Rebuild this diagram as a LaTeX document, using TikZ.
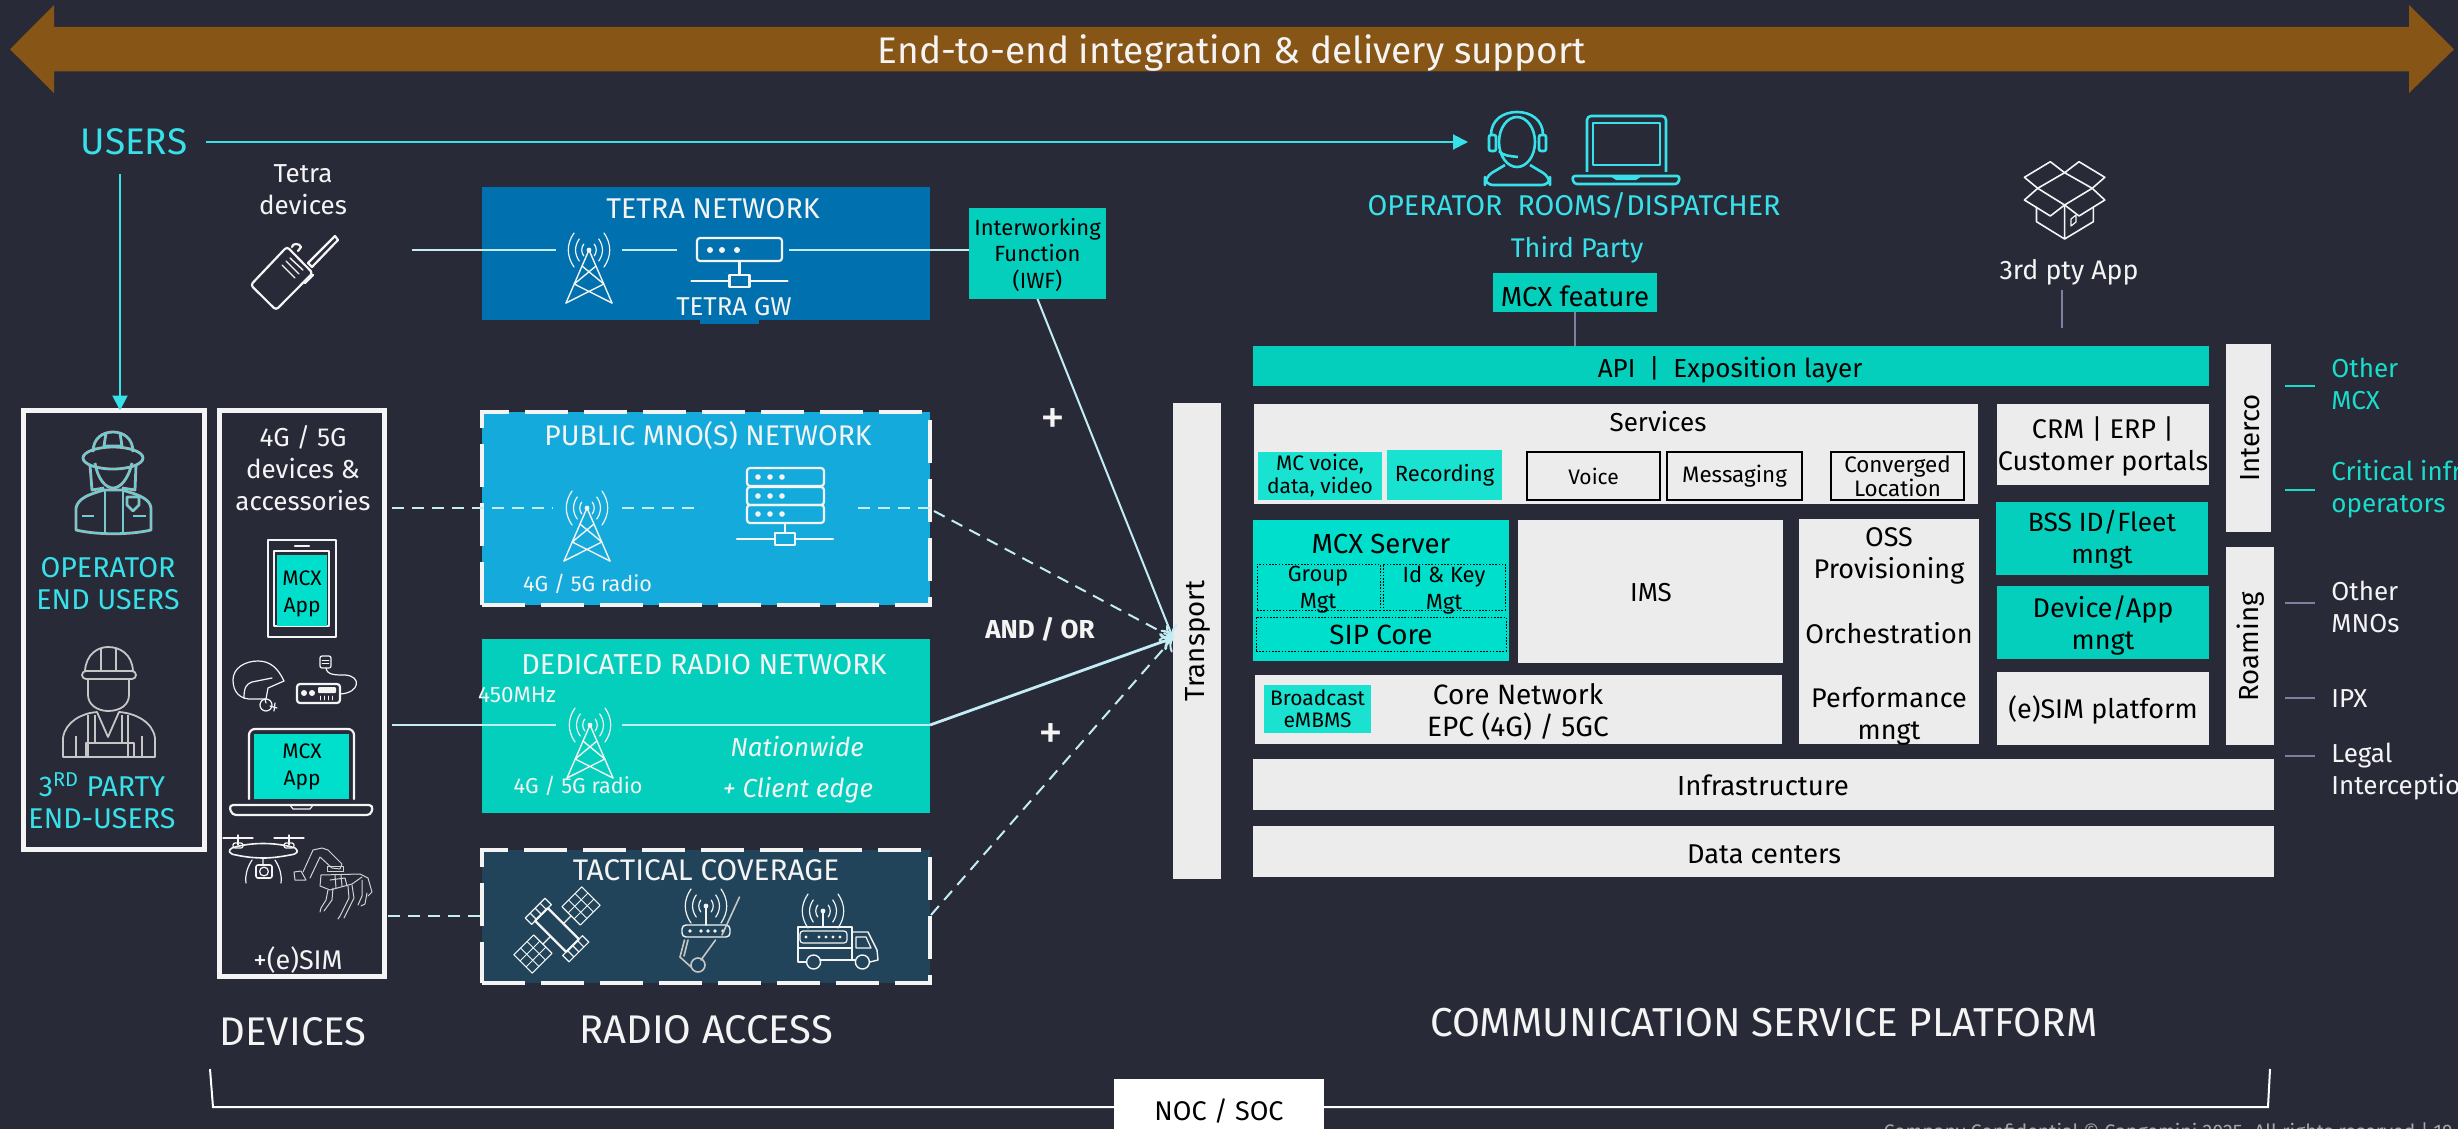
\documentclass[tikz,border=0pt]{standalone}
\usepackage{fontspec}
\setmainfont{Fira Sans}
\usetikzlibrary{arrows.meta,positioning}

\tikzset{
    wh/.style 2 args={minimum width=#1*0.5pt,minimum height=#2*0.5pt},
    fs/.style 2 args={font=\fontsize{#1}{#2}\selectfont},
    blk/.style={anchor=north west,inner sep=0pt,outer sep=0pt},
    lbl/.style={align=center,inner sep=0pt,text=#1},
    lbl/.default=txw,
    icon/.style={draw=txw,line width=1.1pt,line join=round,line cap=round},
    thin icon/.style={draw=#1,line width=.6pt,line join=round,line cap=round},
    thin icon/.default=txw,
    link/.style={draw=linkc,line width=1.4pt},
    dlink/.style={link,dash pattern=on 6pt off 4pt},
    ulink/.style={draw=cyx,line width=1pt,-{Triangle[length=7.5pt,width=7.5pt]}},
    graylink/.style={draw=grl,line width=1pt},
    dbox/.style={draw=txw,line width=2pt,dash pattern=on 21.5pt off 8pt},
    pics/waves/.style={code={
        \foreach \r in {7,13,20} {
            \draw [thin icon] ({-\r*.75},{-\r*.85}) to[bend right=35] ({-\r*.75},{\r*.85});
            \draw [thin icon] ({\r*.75},{-\r*.85}) to[bend left=35] ({\r*.75},{\r*.85});
        }
        \fill [txw] (0,0) circle (1.2pt);
    }},
    pics/tower/.style={code={
        \pic {waves};
        \draw [thin icon,line width=.7pt] (-23,53) -- (0,0) -- (23,53);
        \draw [thin icon,line width=.7pt] (-7,16) -- (14.8,34) -- (-23,53)
                                          (7,16) -- (-14.8,34) -- (23,53);
    }},
    pics/hub/.style={code={
        \draw [icon] (-48,0) -- (48,0);
        \draw [icon,fill=#1] (-10,-6) rectangle (10,6);
    }},
}
\definecolor{txw}{HTML}{F4F4F4}
\definecolor{linkc}{HTML}{C4ECF5}
\definecolor{cyx}{HTML}{38E1E9}
\definecolor{grl}{HTML}{7F80A0}

\begin{document}
\begin{tikzpicture}[x=0.5pt,y=-0.5pt]
    \definecolor{bgx}{HTML}{282A38}
    \definecolor{brx}{HTML}{875515}
    \definecolor{tex}{HTML}{0170AE}
    \definecolor{pux}{HTML}{14AADC}
    \definecolor{dex}{HTML}{03CFBC}
    \definecolor{tax}{HTML}{21445A}
    \definecolor{grx}{HTML}{ECECEC}
    \definecolor{mcx}{HTML}{00DFCB}
    \definecolor{ltx}{HTML}{1AE2D0}
    \definecolor{otx}{HTML}{19DCCB}

    \fill [bgx] (0,0) rectangle (2458,1129);
    \useasboundingbox (0,0) rectangle (2458,1129);

    \fill [brx] (10,49.3) -- (54,5) -- (54,27) -- (2409,27) -- (2409,5) -- (2454,49.3)
                -- (2409,93) -- (2409,71.5) -- (54,71.5) -- (54,93) -- cycle;
    \node (e2e) [lbl,fs={18.5}{22}] at (1232,53) {End-to-end integration \& delivery support};

    \node (users) [lbl=cyx,fs={18.5}{22}] at (134,142) {USERS};
    \coordinate (usersE) at (206,142);
    \coordinate (usersS) at (120,174);
    \coordinate (rooms) at (1468,142);

    % left boxes
    \node (opbox) [blk,draw=txw,line width=2.5pt,wh={181}{439}] at (23.5,410.5) {};
    \node (devbox) [blk,draw=txw,line width=2.5pt,wh={165}{566}] at (219.5,410.5) {};
    \draw [ulink] (usersE) -- (rooms);
    \draw [ulink] (usersS) -- (usersS |- opbox.north);

    \node (tetradev) [lbl,fs={13}{16}] at (303,190) {Tetra\\devices};
    \node (opusers) [lbl=cyx,fs={14.3}{16}] at (108,584) {OPERATOR\\END USERS};
    \node (party) [lbl=cyx,fs={14.3}{16}] at (102,801) {3\textsuperscript{RD} PARTY\\END-USERS};
    \node (g45) [lbl,fs={13}{16}] at (303,468) {4G / 5G\\devices \&\\accessories};
    \node (esim) [lbl,fs={13.5}{16}] at (298,960) {+(e)SIM};
    \node (devices) [lbl,fs={20}{24}] at (293,1032) {DEVICES};

    % radio access
    \begin{scope}[every node/.style={blk}]
        \node (gwtab)    [fill=tex,wh={59}{10}]        at (700,314) {};
        \node (tetra)    [fill=tex,wh={448}{133}]      at (482,187) {};
        \node (iwf)      [fill=dex,wh={137}{91}]       at (969,208) {};
        \node (public)   [fill=pux,dbox,wh={448}{193}] at (482,412) {};
        \node (radio)    [fill=dex,wh={448}{174}]      at (482,639) {};
        \node (tactical) [fill=tax,dbox,wh={448}{133}] at (482,850) {};
        \node (transport)[fill=grx,wh={48}{476}]       at (1173,403) {};
    \end{scope}

    \node (tetraL) [lbl,fs={14.3}{16}] at (713,209) {TETRA NETWORK};
    \node (gwL) [lbl,fs={12.9}{14}] at (734,307) {TETRA GW};
    \node (iwfL) [lbl=black,fs={11}{13.3}] at (1037.5,255) {Interworking\\Function\\(IWF)};
    \node (publicL) [lbl,fs={14.2}{16}] at (708,436) {PUBLIC MNO(S) NETWORK};
    \node (radioL1) [lbl,fs={10.8}{12}] at (587.5,584) {4G / 5G radio};
    \node (radioT) [lbl,fs={14.4}{16}] at (704,665) {DEDICATED RADIO NETWORK};
    \node (mhz) [lbl,fs={11.2}{12}] at (517,695) {450MHz};
    \node (radioL2) [lbl,fs={10.8}{12}] at (578,786) {4G / 5G radio};
    \node (nation) [lbl,fs={13}{16}] at (797,747) {\itshape Nationwide};
    \node (client) [lbl,fs={13}{16}] at (798,790) {\itshape + Client edge};
    \node (tacticalL) [lbl,fs={14.9}{16}] at (706,870) {TACTICAL COVERAGE};
    \node (access) [lbl,fs={20}{24}] at (706,1030) {RADIO ACCESS};
    \node (plusA) [lbl,fs={25}{30}] at (1053,422) {+};
    \node (plusB) [lbl,fs={25}{30}] at (1051,737) {+};
    \node (andor) [lbl,fs={13}{16}] at (1040,629) {\bfseries AND / OR};

    % tetra line
    \coordinate (t0) at (412,250);
    \coordinate (t1) at (556,250);
    \coordinate (t2) at (622,250);
    \coordinate (t3) at (677,250);
    \coordinate (t4) at (789,250);
    \draw [link] (t0) -- (t1);
    \draw [link] (t2) -- (t3);
    \draw [link] (t4) -- (t4 -| iwf.west);
    \pic at (589,250) {tower};
    \draw [icon,rounded corners=1.5pt] (697,238) rectangle (782,261);
    \foreach \x in {710,722,737} {\fill [txw] (\x,250) circle (1.5pt);}
    \draw [icon] (739.5,261) -- (739.5,281);
    \pic at (739.5,281) {hub=tex};

    % public line
    \coordinate (p0) at (392,508);
    \coordinate (p1) at (553,508);
    \coordinate (p2) at (622,508);
    \coordinate (p3) at (702,508);
    \coordinate (p4) at (858,508);
    \draw [dlink] (p0) -- (p1);
    \draw [dlink] (p2) -- (p3);
    \draw [dlink] (p4) -- (p4 -| public.east);
    \pic at (587,508) {tower};
    \foreach \y in {468,487,505} {
        \draw [icon,rounded corners=1.5pt] (747,\y) rectangle (824,\y+18);
        \foreach \x in {758,770,782} {\fill [txw] (\x,\y+9) circle (1.4pt);}
    }
    \draw [icon] (785,523) -- (785,539);
    \pic at (785,539) {hub=pux};

    % dedicated line
    \coordinate (d0) at (392,725);
    \coordinate (d1) at (556,725);
    \coordinate (d2) at (622,725);
    \draw [link] (d0) -- (d1);
    \draw [link] (d2) -- (d2 -| radio.east);
    \pic at (590,725) {tower};

    % tactical line
    \coordinate (c0) at (388,916);
    \draw [dlink] (c0) -- (c0 -| tactical.west);

    % to transport
    \coordinate (hub) at (transport.west |- 0,638);
    \coordinate (pubE) at (934,511);
    \coordinate (radE) at (930,725);
    \coordinate (tacE) at (931,915);
    \draw [draw=linkc,line width=1pt,-{To[length=6pt,width=9pt]}] (iwf.south) -- (hub);
    \draw [dlink,line width=1pt,-{To[length=6pt,width=9pt]}] (pubE) -- (hub);
    \draw [link,-{To[length=6pt,width=9pt]}] (radE) -- (hub);
    \draw [dlink,line width=1pt,-{To[length=6pt,width=9pt]}] (tacE) -- (hub);
    \node (transportL) [lbl=black,fs={13.8}{15},rotate=90] at (1198,641) {Transport};

    % platform boxes
    \begin{scope}[every node/.style={blk}]
        \node (api)      [fill=dex,wh={956}{40}]    at (1253,346) {};
        \node (feature)  [fill=dex,wh={164}{39}]    at (1493,273) {};
        \node (services) [fill=grx,wh={724}{100}]   at (1254,404) {};
        \node (mcvoice)  [fill=ltx,wh={124}{48}]    at (1258,452) {};
        \node (record)   [fill=ltx,wh={115}{50}]    at (1387,450) {};
        \node (voice)    [draw=black,line width=.6pt,wh={133}{48}] at (1527,452) {};
        \node (msg)      [draw=black,line width=.6pt,wh={135}{48}] at (1667,452) {};
        \node (conv)     [draw=black,line width=.6pt,wh={133}{48}] at (1831,452) {};
        \node (server)   [fill=mcx,wh={256}{141}]   at (1253,520) {};
        \node (ims)      [fill=grx,wh={265}{143}]   at (1518,520) {};
        \node (oss)      [fill=grx,wh={180}{225}]   at (1799,519) {};
        \node (core)     [fill=grx,wh={527}{69}]    at (1255,675) {};
        \node (bcast)    [fill=ltx,wh={107}{48}]    at (1264,685) {};
        \node (infra)    [fill=grx,wh={1021}{51}]   at (1253,759) {};
        \node (dc)       [fill=grx,wh={1021}{51}]   at (1253,826) {};
        \node (crm)      [fill=grx,wh={212}{81}]    at (1997,404) {};
        \node (bss)      [fill=dex,wh={212}{73}]    at (1996,502) {};
        \node (devapp)   [fill=dex,wh={212}{73}]    at (1997,586) {};
        \node (simp)     [fill=grx,wh={212}{73}]    at (1997,672) {};
        \node (interco)  [fill=grx,wh={45}{188}]    at (2226,344) {};
        \node (roam)     [fill=grx,wh={48}{198}]    at (2226,547) {};
    \end{scope}
    \begin{scope}[every node/.style={blk,draw=black,line width=.4pt,dash pattern=on .8pt off .8pt}]
        \node (group) [wh={123}{46}]  at (1257,564) {};
        \node (idkey) [wh={122}{46}]  at (1383,564) {};
        \node (sip)   [wh={250}{34}]  at (1256,617) {};
    \end{scope}

    \node (roomsL) [lbl=cyx,fs={14.3}{16}] at (1574,205) {OPERATOR\ \ ROOMS/DISPATCHER};
    \node (third) [lbl=cyx,fs={13.5}{16}] at (1577,250) {Third Party};
    \node (featureL) [lbl=black,fs={13.8}{16}] at (1575,296) {MCX feature};
    \node (appL) [lbl,fs={13.4}{16}] at (2069,272) {3rd pty App};
    \node (apiL) [lbl=black,fs={13}{16}] at (1730,370) {API\ \ |\ \ Exposition layer};
    \node (servicesL) [lbl=black,fs={13}{16}] at (1658,422) {Services};
    \node (mcvoiceL) [lbl=black,fs={10.5}{11.5}] at (mcvoice) {MC voice,\\data, video};
    \node (recordL) [lbl=black,fs={11}{12}] at (record) {Recording};
    \node (voiceL) [lbl=black,fs={10.5}{12}] at (voice) {Voice};
    \node (msgL) [lbl=black,fs={11.2}{12}] at (msg) {Messaging};
    \node (convL) [lbl=black,fs={11.2}{10.7}] at (conv) {Converged\\Location};
    \node (serverL) [lbl=black,fs={13.8}{16}] at (1381,544) {MCX Server};
    \node (groupL) [lbl=black,fs={11}{13.5}] at (1318,590) {Group\\Mgt};
    \node (idkeyL) [lbl=black,fs={11}{13.5}] at (1444,590) {Id \& Key\\Mgt};
    \node (sipL) [lbl=black,fs={13.9}{16}] at (1381,635) {SIP Core};
    \node (imsL) [lbl=black,fs={13}{16}] at (1651,593) {IMS};
    \node (coreL) [lbl=black,fs={14}{16}] at (1518,712) {Core Network\\EPC (4G) / 5GC};
    \node (bcastL) [lbl=black,fs={10.5}{11.2}] at (bcast) {Broadcast\\eMBMS};
    \node (infraL) [lbl=black,fs={13.8}{16}] at (1763,785) {Infrastructure};
    \node (dcL) [lbl=black,fs={13.6}{16}] at (1764,854) {Data centers};
    \node (ossL1) [lbl=black,fs={13.5}{16}] at (1889,556) {OSS\\Provisioning};
    \node (ossL2) [lbl=black,fs={13.5}{16}] at (1889,633) {Orchestration};
    \node (ossL3) [lbl=black,fs={13.5}{16}] at (1889,716) {Performance\\mngt};
    \node (crmL) [lbl=black,fs={13.5}{16}] at (2103,446) {CRM | ERP |\\Customer portals};
    \node (bssL) [lbl=black,fs={13.2}{16}] at (2102,540) {BSS ID/Fleet\\mngt};
    \node (devappL) [lbl=black,fs={13.5}{16}] at (2103,625) {Device/App\\mngt};
    \node (simL) [lbl=black,fs={13.5}{16}] at (2103,710) {(e)SIM platform};
    \node (intercoL) [lbl=black,fs={13.8}{15},rotate=90] at (2250,438) {Interco};
    \node (roamL) [lbl=black,fs={13.8}{15},rotate=90] at (2251,647) {Roaming};
    \node (platform) [lbl,fs={20.2}{24}] at (1764,1023) {COMMUNICATION SERVICE PLATFORM};

    % side links
    \foreach \name/\y/\c in {ma/386/otx,mb/490/otx,mc/603/grl,md/698/grl,me/756/grl} {
        \coordinate (\name a) at (2285,\y);
        \coordinate (\name b) at (2315,\y);
        \draw [line width=1.2pt,draw=\c] (\name a) -- (\name b);
    }
    \begin{scope}[every node/.style={anchor=west,align=left,inner sep=0pt}]
        \node (sideA) [text=otx,fs={13}{16}] at (2331,384) {Other\\MCX};
        \node (sideB) [text=otx,fs={13}{16}] at (2331,489) {Critical infra\\operators};
        \node (sideC) [text=txw,fs={13}{16}] at (2331,607) {Other\\MNOs};
        \node (sideD) [text=txw,fs={13}{16}] at (2331,699) {IPX};
        \node (sideE) [text=txw,fs={13}{16}] at (2331,772) {Legal\\Interception};
    \end{scope}

    \coordinate (appS) at (2062,290);
    \coordinate (appE) at (2062,328);
    \draw [graylink] (feature.south) -- (feature.south |- api.north);
    \draw [graylink] (appS) -- (appE);

    % bottom
    \coordinate (brL) at (210,1069);
    \coordinate (brR) at (2270,1069);
    \node (noc) [blk,fill=white,wh={210}{50}] at (1114,1079) {};
    \draw [draw=white,line width=1pt] (brL) -- (213,1107) -- (noc.west |- 0,1107);
    \draw [draw=white,line width=1pt] (noc.east |- 0,1107) -- (2268,1107) -- (brR);
    \node (nocL) [lbl=black,fs={13.5}{16}] at (1219,1111) {NOC / SOC};
    \node (foot) [lbl=gray!70!white,fs={9.8}{12}] at (2168,1133) {Company Confidential © Capgemini 2025. All rights reserved | 19};

    % walkie
    \draw [icon,rounded corners=1.5pt] (250.7,285) -- (276,310) -- (312.7,273) -- (287,246.7) -- cycle;
    \draw [icon] (292,247) .. controls (292,243) and (300,243) .. (301,247) -- (298,251);
    \draw [thin icon,line width=.7pt] (282,265) -- (295,278) (286,261) -- (299,274) (290,258) -- (303,270);
    \draw [icon] (308,263) -- (312,267) -- (338,240) -- (335,236) -- cycle;
    \draw [icon] (305,283) -- (313,275);

    % firefighter
    \begin{scope}[fire/.style={draw=gray!60!white,double=cyx,double distance=.5pt,line width=.45pt,line join=round}]
        \draw [fire] (93,452) .. controls (93,438) and (103,432) .. (113,432)
                     .. controls (123,432) and (133,438) .. (133,452);
        \draw [fire] (113,458) ellipse [x radius=30,y radius=11];
        \draw [fire] (106,433) -- (104,446) (120,433) -- (122,446) (104,446) -- (122,446);
        \draw [fire] (95,463) .. controls (98,480) and (106,488) .. (113,488)
                     .. controls (120,488) and (128,480) .. (132,463);
        \draw [fire] (90,465) -- (92,490) -- (104,488) (136,465) -- (135,490) -- (122,488);
        \draw [fire] (76,530) -- (76,508) .. controls (78,498) and (90,494) .. (104,490) -- (122,490)
                     .. controls (136,494) and (150,498) .. (151,508) -- (151,530)
                     .. controls (130,535) and (97,535) .. (76,530) -- cycle;
        \draw [fire] (105,490) -- (105,532) (123,490) -- (123,532);
        \draw [fire] (127,497) -- (139,497) -- (139,505) -- (133,511) -- (127,505) -- cycle;
        \draw [fire] (82,516) -- (94,516) (133,516) -- (146,516);
    \end{scope}

    % worker
    \begin{scope}[work/.style={draw=gray!45!white,line width=.9pt,line join=round}]
        \draw [work] (85,671) .. controls (86,654) and (98,647) .. (108,647)
                     .. controls (120,647) and (132,654) .. (133,671);
        \draw [work,rounded corners=2pt] (82,671) rectangle (136,679);
        \draw [work] (101,648) -- (101,671) (116,648) -- (116,671);
        \draw [work] (88,679) -- (88,695) .. controls (88,705) and (98,711) .. (108,711)
                     .. controls (120,711) and (129,705) .. (129,695) -- (129,679);
        \draw [work] (63,757) -- (63,738) .. controls (65,722) and (82,713) .. (97,712)
                     -- (108,737) -- (119,712) .. controls (135,713) and (153,722) .. (155,738)
                     -- (155,757) -- cycle;
        \draw [work] (76,736) -- (76,757) (142,736) -- (142,757)
                     (88,715) -- (88,757) (128,715) -- (128,757)
                     (95,715) -- (95,743) (122,715) -- (122,743);
        \draw [work] (86,743) rectangle (134,757);
    \end{scope}

    % devices icons
    \draw [icon] (268,540) rectangle (336,637);
    \draw [icon,fill=bgx] (274,551) rectangle (329,626);
    \fill [mcx] (277,555) rectangle (327,626);
    \draw [icon] (295,546) -- (309,546);
    \node (phone) [lbl=black,fs={10.5}{13.5}] at (302,593.5) {MCX\\App};

    \draw [thin icon] (253,699) .. controls (240,700) and (233,692) .. (233,680)
          .. controls (233,668) and (245,661) .. (258,661) .. controls (270,661) and (278,668) .. (284,681)
          -- (268,688) -- (266,699) -- cycle;
    \draw [thin icon] (244,698) .. controls (244,688) and (246,684) .. (252,682) -- (272,678);
    \draw [thin icon] (265,699) -- (266,703) (266,705) circle (3pt) (270,706) -- (277,708) (275,703) -- (274,711);

    \draw [icon,rounded corners=1.5pt] (297,684) rectangle (340,703);
    \fill [txw] (304,693) circle (1.5pt) (312,693) circle (1.5pt);
    \fill [txw,rounded corners=.5pt] (318,687) rectangle (336,693);
    \draw [thin icon,line width=.4pt] (320,696) -- (320,700) (324,696) -- (324,700) (328,696) -- (328,700) (332,696) -- (332,700);
    \draw [thin icon] (340,694) .. controls (360,693) and (362,676) .. (345,675)
          .. controls (335,675) and (327,675) .. (326,668);
    \draw [thin icon,rounded corners=1pt] (320,656) rectangle (331,668);
    \draw [thin icon,line width=.4pt] (322,660) -- (329,660) (322,663) -- (329,663);

    \draw [icon,rounded corners=3pt] (249,799) -- (249,729) -- (354,729) -- (354,799);
    \fill [mcx] (254,734) rectangle (349,799);
    \draw [icon,rounded corners=2pt] (229,805) -- (373,805) -- (371,815) -- (232,815) -- cycle;
    \draw [thin icon] (290,805) -- (293,809) -- (310,809) -- (313,805);
    \node (laptop) [lbl=black,fs={10.5}{13.5}] at (302,767) {MCX\\App};

    % drone
    \draw [thin icon] (223,838) -- (253,838) (274,838) -- (304,838)
          (238,835) -- (238,845) (289,835) -- (289,845);
    \draw [thin icon,rounded corners=1pt] (233,843) rectangle (243,848) (284,843) rectangle (294,848);
    \draw [thin icon,line width=.8pt] (232,848) .. controls (250,842) and (276,842) .. (295,848)
          .. controls (299,851) and (298,854) .. (290,855) .. controls (280,857) and (270,858) .. (264,858)
          .. controls (255,858) and (245,857) .. (236,855) .. controls (228,854) and (228,850) .. (232,848) -- cycle;
    \draw [thin icon] (252,860) .. controls (247,868) and (245,875) .. (246,883)
          (275,860) .. controls (280,868) and (282,875) .. (281,883) (263,858) -- (263,865);
    \draw [thin icon,line width=.8pt,rounded corners=1pt] (256,865) rectangle (272,878);
    \draw [thin icon] (264,871.5) circle (2.2pt);

    % robot
    \begin{scope}[rob/.style={thin icon=gray!35!white,line width=.5pt}]
        \draw [rob] (294,872) -- (301,871) -- (306,880) -- (295,880) -- cycle;
        \draw [rob] (303,872) -- (313,850) -- (322,848) -- (328,850) -- (342,864) -- (340,869) -- (332,868) -- (320,857) -- (310,878);
        \draw [rob] (327,866) -- (343,866) -- (343,871) -- (327,871) -- cycle;
        \draw [rob] (321,875) -- (360,874) -- (368,878) -- (372,892) -- (368,896);
        \draw [rob] (321,875) -- (320,886) -- (330,890) -- (352,884) -- (362,877);
        \draw [rob] (330,880) -- (345,878) -- (347,886) (335,875) -- (336,888) (341,875) -- (342,886);
        \draw [rob] (328,890) -- (326,900) -- (321,908) -- (320,912) (333,888) -- (332,900) -- (324,911);
        \draw [rob] (348,886) -- (349,898) -- (340,916) -- (338,919) (352,885) -- (354,898) -- (344,918);
        \draw [rob] (362,880) -- (362,896) -- (358,905) (367,893) -- (365,904) -- (361,906);
    \end{scope}

    % operator desk
    \begin{scope}[desk/.style={draw=cyx,line width=1.3pt,line join=round}]
        \draw [desk] (1517,142) ellipse [x radius=18,y radius=25];
        \draw [desk] (1491,135) .. controls (1491,120) and (1503,112) .. (1517,112)
                     .. controls (1531,112) and (1543,120) .. (1543,135);
        \draw [desk,rounded corners=1pt] (1489,135) rectangle (1496,151) (1539,135) rectangle (1546,151);
        \draw [desk] (1499,151) .. controls (1503,156) and (1510,156) .. (1518,157);
        \draw [desk,rounded corners=4pt] (1505,165) -- (1485,177) -- (1485,185) -- (1550,185) -- (1550,177) -- (1530,165);
        \draw [desk,rounded corners=2pt] (1587,172) -- (1587,116) -- (1666,116) -- (1666,172);
        \draw [desk] (1593,123) rectangle (1660,165);
        \draw [desk,rounded corners=1.5pt] (1572,176) -- (1680,176) -- (1678,184) -- (1574,184) -- cycle;
        \fill [cyx] (1610,176) -- (1642,176) -- (1636,180) -- (1616,180) -- cycle;
    \end{scope}

    % box
    \begin{scope}[boxi/.style={thin icon,line width=.8pt}]
        \draw [boxi] (2050.3,161.7) -- (2024.4,177.3) -- (2037.7,188.3) -- (2064.6,172.7) -- (2079,161.7) -- (2104.8,177.3) -- (2092.2,188.3) -- (2064.6,172.7) -- cycle;
        \draw [boxi] (2037.7,188.3) -- (2024.4,200) -- (2050.3,216) -- (2064.6,205) -- (2079,216) -- (2104.8,200) -- (2092.2,188.3) -- (2064.6,205) -- (2037.7,188.3);
        \draw [boxi] (2036.5,207.3) -- (2036.5,221.7) -- (2064.6,239) -- (2093.3,221.7) -- (2093.3,207.3) (2064.6,205) -- (2064.6,239);
        \draw [thin icon] (2071,226) -- (2071,219) -- (2076,215) -- (2076,222) -- cycle;
    \end{scope}

    % satellite
    \begin{scope}[shift={(557,930)},rotate=45]
        \draw [icon] (-9,-22) rectangle (9,22);
        \draw [thin icon] (-14,-31) rectangle (14,-22) (-14,22) rectangle (14,31)
              (-7,-31) -- (-7,-22) (0,-31) -- (0,-22) (7,-31) -- (7,-22)
              (-7,22) -- (-7,31) (0,22) -- (0,31) (7,22) -- (7,31);
        \foreach \s in {-1,1} {
            \draw [thin icon] (\s*9,0) -- (\s*20,0);
            \draw [thin icon] (\s*20,-13) rectangle (\s*48,13);
            \foreach \v in {-4.3,4.3} {\draw [thin icon,line width=.45pt] (\s*20,\v) -- (\s*48,\v);}
            \foreach \v in {29.3,38.6} {\draw [thin icon,line width=.45pt] (\s*\v,-13) -- (\s*\v,13);}
        }
    \end{scope}

    % manpack
    \pic at (706,906) {waves};
    \draw [thin icon] (706,906) -- (706,925);
    \draw [thin icon,line width=.7pt,rounded corners=2pt] (682,925) rectangle (730,937);
    \foreach \x in {690,701,708,715,723} {\fill [txw] (\x,931) circle (.9pt);}
    \begin{scope}[man/.style={draw=gray!45!white,line width=.8pt,line cap=round}]
        \draw [man] (739.5,897) -- (722,935);
        \draw [man] (715.5,940) -- (701,960);
        \draw [man] (684.5,940) -- (680,957) -- (691,967);
        \draw [man] (688,940) -- (684,956);
        \draw [man] (698,965) circle (3.5pt);
    \end{scope}

    % truck
    \pic at (823,911) {waves};
    \draw [thin icon] (823,911) -- (823,927);
    \draw [thin icon,line width=.7pt] (806,962) -- (798,962) -- (798,927) -- (852,927) -- (852,960) -- (820,960);
    \draw [thin icon] (798,948) -- (852,948);
    \draw [thin icon,rounded corners=1.5pt] (800,931) rectangle (847,943);
    \foreach \x in {806,819,826,833,840} {\fill [txw] (\x,937) circle (.8pt);}
    \draw [thin icon,line width=.7pt] (852,932) -- (868,932) -- (877,950) -- (878,960) -- (870,962);
    \draw [thin icon] (856,937) -- (866,937) -- (871,948) -- (856,948) -- cycle;
    \draw [thin icon,line width=.7pt] (852,960) -- (855,960);
    \draw [thin icon,line width=.7pt] (813.6,962) circle (3.5pt) (862.4,962) circle (3.5pt);
\end{tikzpicture}
\end{document}
